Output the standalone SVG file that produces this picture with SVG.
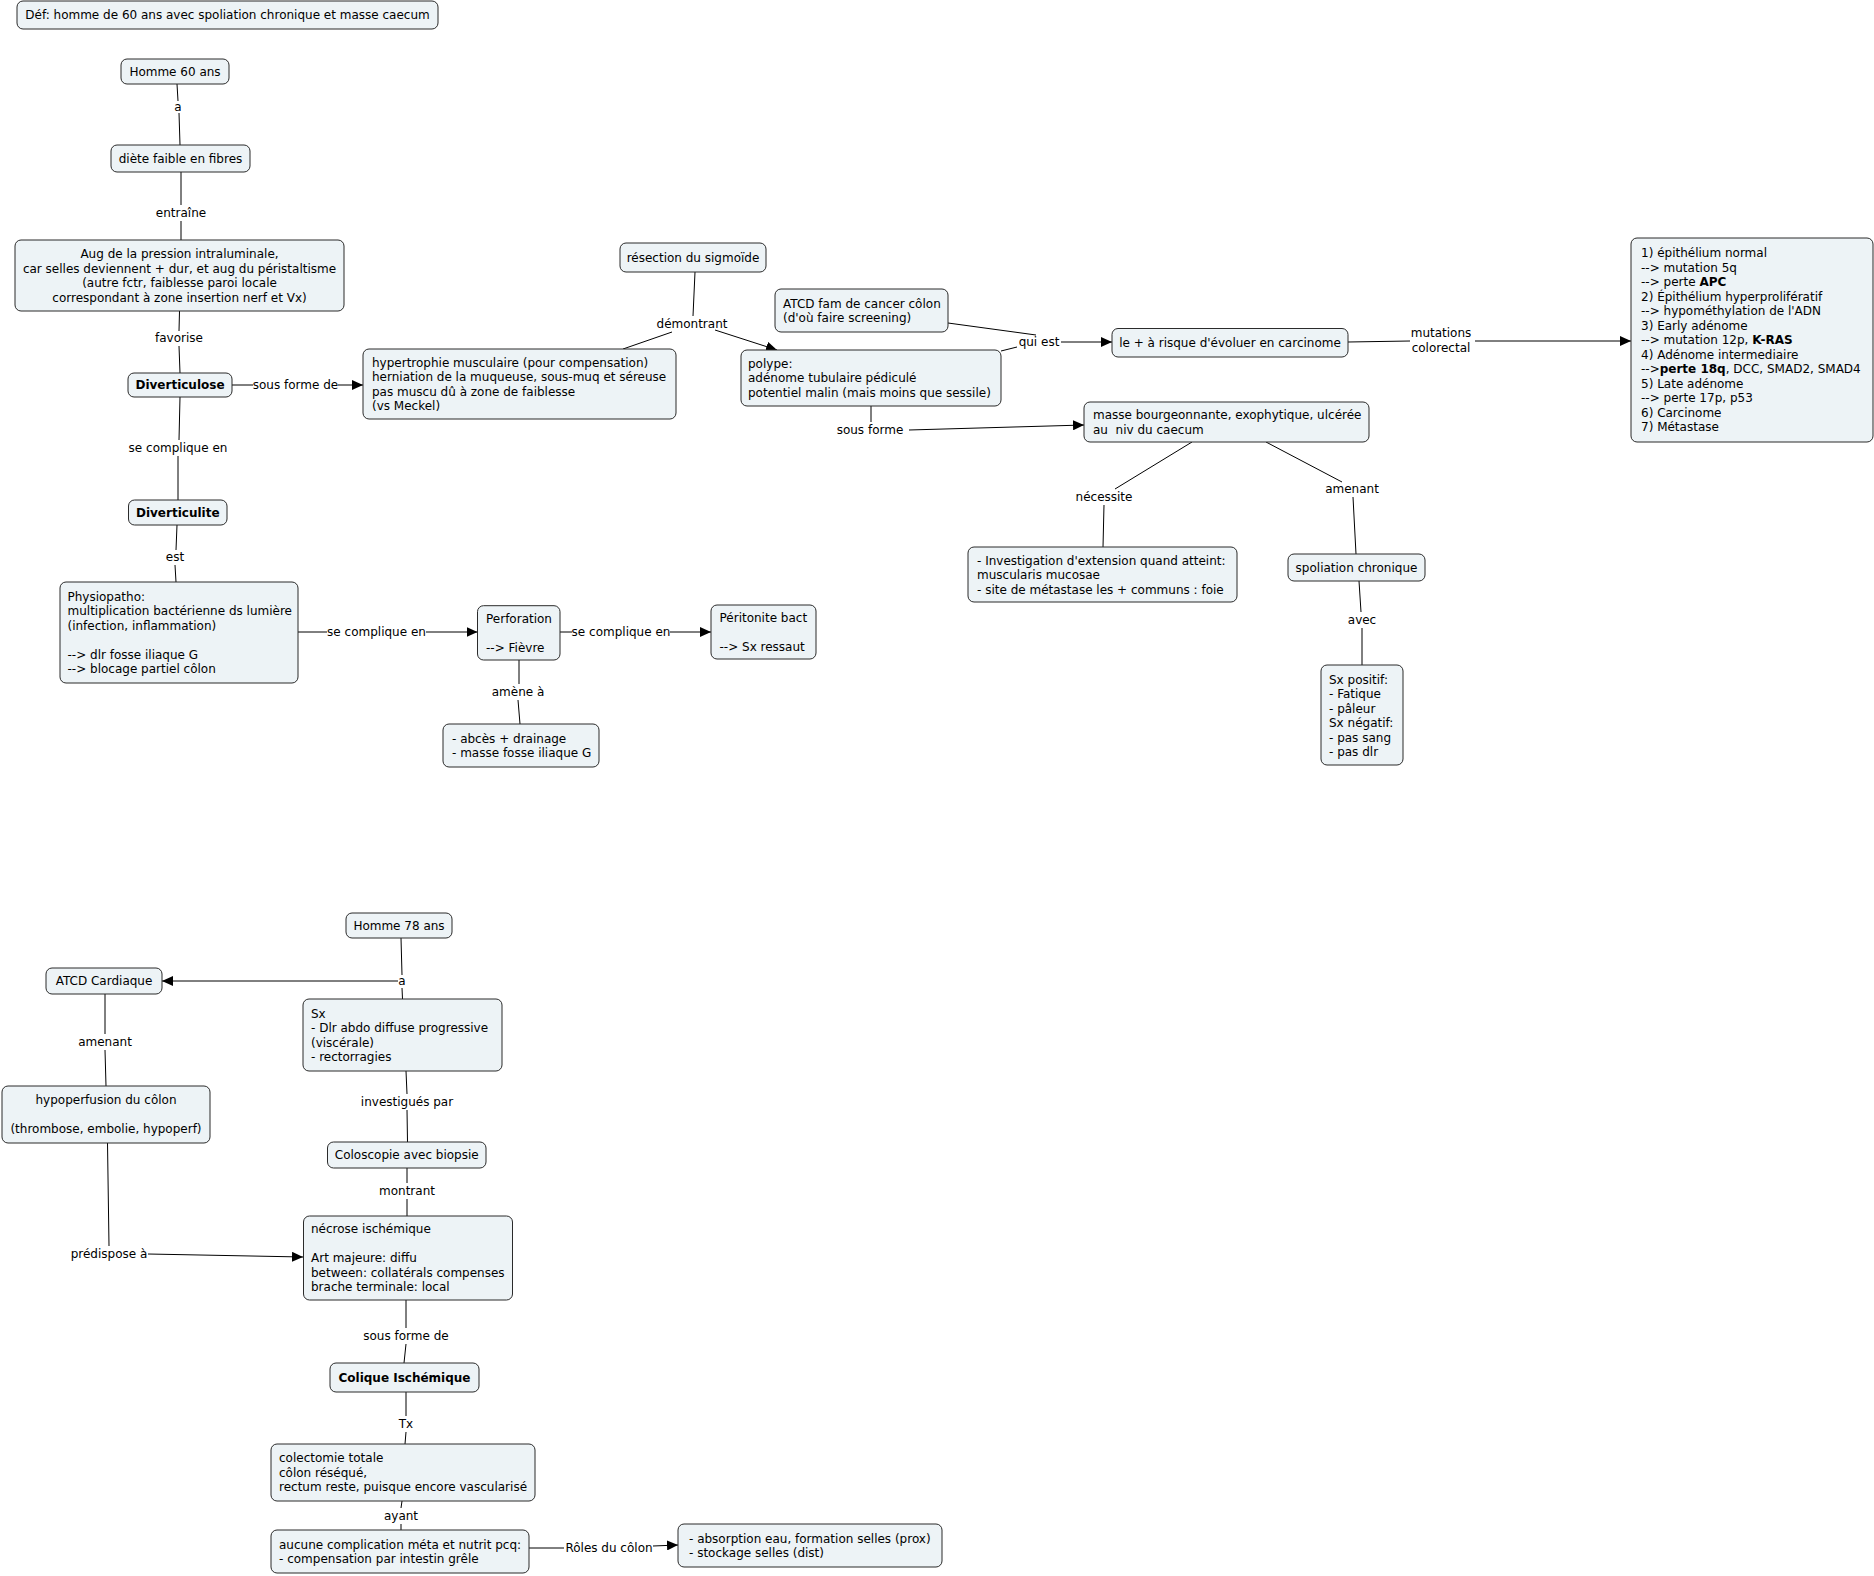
<svg xmlns="http://www.w3.org/2000/svg" width="1874" height="1576" viewBox="0 0 1874 1576">
<style>
text{font-family:"DejaVu Sans",Verdana,"Liberation Sans",sans-serif;font-size:12px;fill:#000}
.n rect{fill:#edf3f6;stroke:#2b2b2b;stroke-width:1}
.b{font-weight:bold}
.m{text-anchor:middle}
#links line,#links polyline{stroke:#000;stroke-width:1;fill:none}
.a{marker-end:url(#arr)}
</style>
<defs>
<marker id="arr" markerUnits="userSpaceOnUse" markerWidth="12" markerHeight="10" refX="11" refY="5" orient="auto">
<path d="M0,0 L11,5 L0,10 z" fill="#000"/>
</marker>
</defs>
<rect width="1874" height="1576" fill="#fff"/>
<g id="links">
<line x1="177" y1="84" x2="178" y2="101"/><line x1="179" y1="113" x2="180" y2="145"/>
<line x1="181" y1="172" x2="181" y2="205"/><line x1="181" y1="221" x2="181" y2="240"/>
<line x1="179.5" y1="311" x2="179" y2="331"/><line x1="179" y1="346" x2="180" y2="373"/>
<line x1="232" y1="385" x2="253" y2="385"/><line class="a" x1="338" y1="385" x2="363" y2="385"/>
<line x1="180" y1="397" x2="179" y2="440"/><line x1="178" y1="456" x2="178" y2="500"/>
<line x1="177" y1="525" x2="176" y2="550"/><line x1="175" y1="565" x2="176" y2="582"/>
<line x1="298" y1="632" x2="327" y2="632"/><line class="a" x1="426" y1="632" x2="477.5" y2="632"/>
<line x1="560" y1="632" x2="572" y2="632"/><line class="a" x1="670" y1="632" x2="711" y2="632"/>
<line x1="519" y1="660" x2="519" y2="684"/><line x1="518" y1="700" x2="520" y2="724"/>
<line x1="695" y1="272" x2="693" y2="316"/><line x1="672" y1="332" x2="623" y2="349"/><line class="a" x1="715" y1="330" x2="777" y2="350"/>
<line x1="948" y1="323" x2="1036" y2="335"/><line x1="1001" y1="351" x2="1017" y2="347"/><line class="a" x1="1061" y1="342" x2="1112" y2="342"/>
<line x1="1348" y1="342" x2="1410" y2="341"/><line class="a" x1="1475" y1="341" x2="1631" y2="341"/>
<line x1="871" y1="406" x2="871" y2="422"/><line class="a" x1="909" y1="430" x2="1084" y2="425"/>
<line x1="1192" y1="442" x2="1115" y2="489"/><line x1="1104" y1="505" x2="1103" y2="547"/>
<line x1="1266" y1="442" x2="1342" y2="482"/><line x1="1353" y1="497" x2="1356" y2="554"/>
<line x1="1359" y1="581" x2="1361" y2="612"/><line x1="1362" y1="628" x2="1362" y2="665"/>
<line x1="401" y1="938" x2="402" y2="975"/><line x1="402" y1="988" x2="402.5" y2="999"/><line class="a" x1="398" y1="981" x2="162" y2="981"/>
<line x1="105" y1="994" x2="105" y2="1034"/><line x1="105" y1="1050" x2="106" y2="1086"/>
<line x1="107.5" y1="1143" x2="109" y2="1246"/><line class="a" x1="148" y1="1254" x2="303" y2="1257"/>
<line x1="406" y1="1071" x2="407" y2="1094"/><line x1="407" y1="1110" x2="407.5" y2="1142"/>
<line x1="407" y1="1168" x2="407" y2="1183"/><line x1="407" y1="1199" x2="407" y2="1216"/>
<line x1="406" y1="1300" x2="406" y2="1328"/><line x1="406" y1="1344" x2="404" y2="1363"/>
<line x1="406" y1="1392" x2="406" y2="1416"/><line x1="406" y1="1432" x2="405" y2="1444"/>
<line x1="402" y1="1501" x2="401" y2="1508"/><line x1="401" y1="1524" x2="401" y2="1530"/>
<line x1="529" y1="1548" x2="564" y2="1548"/><line class="a" x1="653" y1="1546" x2="678" y2="1545"/>
</g>
<g id="labels">
<text class="m" x="178" y="111.3">a</text>
<text class="m" x="181" y="217.3">entraîne</text>
<text class="m" x="179" y="342.3">favorise</text>
<text class="m" x="295.5" y="389.3">sous forme de</text>
<text class="m" x="178" y="452.3">se complique en</text>
<text class="m" x="175" y="561.3">est</text>
<text class="m" x="376.5" y="636.3">se complique en</text>
<text class="m" x="621" y="636.3">se complique en</text>
<text class="m" x="518" y="696.3">amène à</text>
<text class="m" x="692" y="328.3">démontrant</text>
<text class="m" x="1039" y="346.3">qui est</text>
<text class="m" x="1441" y="337.3">mutations</text>
<text class="m" x="1441" y="352.3">colorectal</text>
<text class="m" x="870" y="434.3">sous forme</text>
<text class="m" x="1104" y="501.3">nécessite</text>
<text class="m" x="1352" y="493.3">amenant</text>
<text class="m" x="1362" y="624.3">avec</text>
<text class="m" x="402" y="985.3">a</text>
<text class="m" x="105" y="1046.3">amenant</text>
<text class="m" x="109" y="1258.3">prédispose à</text>
<text class="m" x="407" y="1106.3">investigués par</text>
<text class="m" x="407" y="1195.3">montrant</text>
<text class="m" x="406" y="1340.3">sous forme de</text>
<text class="m" x="406" y="1428.3">Tx</text>
<text class="m" x="401" y="1520.3">ayant</text>
<text class="m" x="609" y="1552.3">Rôles du côlon</text>
</g>
<g id="def" class="n"><rect x="17" y="1" width="421" height="28" rx="6"/><text class="m" x="227.5" y="19.3">Déf: homme de 60 ans avec spoliation chronique et masse caecum</text></g>
<g id="homme60" class="n"><rect x="121" y="59" width="108" height="25" rx="6"/><text class="m" x="175" y="75.8">Homme 60 ans</text></g>
<g id="diete" class="n"><rect x="111" y="145" width="139" height="27" rx="6"/><text class="m" x="180.5" y="162.8">diète faible en fibres</text></g>
<g id="aug" class="n"><rect x="15" y="240" width="329" height="71" rx="6"/>
<text class="m" x="179.5" y="258">Aug de la pression intraluminale,</text>
<text class="m" x="179.5" y="272.5">car selles deviennent + dur, et aug du péristaltisme</text>
<text class="m" x="179.5" y="287">(autre fctr, faiblesse paroi locale</text>
<text class="m" x="179.5" y="301.5">correspondant à zone insertion nerf et Vx)</text></g>
<g id="diverticulose" class="n"><rect x="128" y="373" width="104" height="24" rx="6"/><text class="m b" x="180" y="389.3">Diverticulose</text></g>
<g id="hypertrophie" class="n"><rect x="363" y="349" width="313" height="70" rx="6"/>
<text x="372" y="366.5">hypertrophie musculaire (pour compensation)</text>
<text x="372" y="381">herniation de la muqueuse, sous-muq et séreuse</text>
<text x="372" y="395.5">pas muscu dû à zone de faiblesse</text>
<text x="372" y="410">(vs Meckel)</text></g>
<g id="diverticulite" class="n"><rect x="128.5" y="500" width="98.5" height="25" rx="6"/><text class="m b" x="177.75" y="516.8">Diverticulite</text></g>
<g id="physiopatho" class="n"><rect x="60" y="582" width="238" height="101" rx="6"/>
<text x="67.5" y="600.5">Physiopatho:</text>
<text x="67.5" y="615">multiplication bactérienne ds lumière</text>
<text x="67.5" y="629.5">(infection, inflammation)</text>
<text x="67.5" y="658.5">--&gt; dlr fosse iliaque G</text>
<text x="67.5" y="673">--&gt; blocage partiel côlon</text></g>
<g id="perforation" class="n"><rect x="477.5" y="605.7" width="82.5" height="54.3" rx="6"/>
<text x="486" y="622.6">Perforation</text>
<text x="486" y="651.6">--&gt; Fièvre</text></g>
<g id="peritonite" class="n"><rect x="711" y="605" width="105" height="54" rx="6"/>
<text x="719.5" y="621.8">Péritonite bact</text>
<text x="719.5" y="650.8">--&gt; Sx ressaut</text></g>
<g id="abces" class="n"><rect x="443" y="724" width="156" height="43" rx="6"/>
<text x="452" y="742.5">- abcès + drainage</text>
<text x="452" y="757">- masse fosse iliaque G</text></g>
<g id="resection" class="n"><rect x="620" y="243" width="146" height="29" rx="6"/><text class="m" x="693" y="261.8">résection du sigmoïde</text></g>
<g id="atcdfam" class="n"><rect x="775" y="289" width="173" height="43" rx="6"/>
<text x="783" y="307.5">ATCD fam de cancer côlon</text>
<text x="783" y="322">(d'où faire screening)</text></g>
<g id="polype" class="n"><rect x="741" y="350" width="260" height="56" rx="6"/>
<text x="748" y="367.8">polype:</text>
<text x="748" y="382.3">adénome tubulaire pédiculé</text>
<text x="748" y="396.8">potentiel malin (mais moins que sessile)</text></g>
<g id="risque" class="n"><rect x="1112" y="328.5" width="236" height="28.5" rx="6"/><text class="m" x="1230" y="347">le + à risque d'évoluer en carcinome</text></g>
<g id="masse" class="n"><rect x="1084" y="402" width="285" height="40" rx="6"/>
<text x="1093" y="419">masse bourgeonnante, exophytique, ulcérée</text>
<text x="1093" y="433.5" style="white-space:pre">au  niv du caecum</text></g>
<g id="etapes" class="n"><rect x="1631" y="238" width="242" height="204" rx="6"/>
<text x="1641" y="257.3">1) épithélium normal</text>
<text x="1641" y="271.8">--&gt; mutation 5q</text>
<text x="1641" y="286.3">--&gt; perte <tspan class="b">APC</tspan></text>
<text x="1641" y="300.8">2) Épithélium hyperprolifératif</text>
<text x="1641" y="315.3">--&gt; hypométhylation de l'ADN</text>
<text x="1641" y="329.8">3) Early adénome</text>
<text x="1641" y="344.3">--&gt; mutation 12p, <tspan class="b">K-RAS</tspan></text>
<text x="1641" y="358.8">4) Adénome intermediaire</text>
<text x="1641" y="373.3">--&gt;<tspan class="b">perte 18q</tspan>, DCC, SMAD2, SMAD4</text>
<text x="1641" y="387.8">5) Late adénome</text>
<text x="1641" y="402.3">--&gt; perte 17p, p53</text>
<text x="1641" y="416.8">6) Carcinome</text>
<text x="1641" y="431.3">7) Métastase</text></g>
<g id="investigation" class="n"><rect x="968" y="547" width="269" height="55" rx="6"/>
<text x="977" y="564.8">- Investigation d'extension quand atteint:</text>
<text x="977" y="579.3">muscularis mucosae</text>
<text x="977" y="593.8">- site de métastase les + communs : foie</text></g>
<g id="spoliation" class="n"><rect x="1288" y="554" width="137" height="27" rx="6"/><text class="m" x="1356.5" y="571.8">spoliation chronique</text></g>
<g id="sx1" class="n"><rect x="1321" y="665" width="82" height="100" rx="6"/>
<text x="1329" y="683.5">Sx positif:</text>
<text x="1329" y="698">- Fatique</text>
<text x="1329" y="712.5">- pâleur</text>
<text x="1329" y="727">Sx négatif:</text>
<text x="1329" y="741.5">- pas sang</text>
<text x="1329" y="756">- pas dlr</text></g>
<g id="homme78" class="n"><rect x="346" y="913" width="106" height="25" rx="6"/><text class="m" x="399" y="929.8">Homme 78 ans</text></g>
<g id="atcdcard" class="n"><rect x="46" y="968" width="116" height="26" rx="6"/><text class="m" x="104" y="985.3">ATCD Cardiaque</text></g>
<g id="sx2" class="n"><rect x="303" y="999" width="199" height="72" rx="6"/>
<text x="311" y="1017.5">Sx</text>
<text x="311" y="1032">- Dlr abdo diffuse progressive</text>
<text x="311" y="1046.5">(viscérale)</text>
<text x="311" y="1061">- rectorragies</text></g>
<g id="hypoperfusion" class="n"><rect x="2" y="1086" width="208" height="57" rx="6"/>
<text class="m" x="106" y="1103.8">hypoperfusion du côlon</text>
<text class="m" x="106" y="1132.8">(thrombose, embolie, hypoperf)</text></g>
<g id="coloscopie" class="n"><rect x="327.5" y="1142" width="158.5" height="26" rx="6"/><text class="m" x="406.75" y="1159.3">Coloscopie avec biopsie</text></g>
<g id="necrose" class="n"><rect x="303.5" y="1216" width="209" height="84" rx="6"/>
<text x="311" y="1233.3">nécrose ischémique</text>
<text x="311" y="1262.3">Art majeure: diffu</text>
<text x="311" y="1276.8">between: collatérals compenses</text>
<text x="311" y="1291.3">brache terminale: local</text></g>
<g id="colique" class="n"><rect x="330" y="1363" width="149" height="29" rx="6"/><text class="m b" x="404.5" y="1381.8">Colique Ischémique</text></g>
<g id="colectomie" class="n"><rect x="271" y="1444" width="264" height="57" rx="6"/>
<text x="279" y="1462.3">colectomie totale</text>
<text x="279" y="1476.8">côlon réséqué,</text>
<text x="279" y="1491.3">rectum reste, puisque encore vascularisé</text></g>
<g id="aucune" class="n"><rect x="271" y="1530" width="258" height="43" rx="6"/>
<text x="279" y="1548.5">aucune complication méta et nutrit pcq:</text>
<text x="279" y="1563">- compensation par intestin grêle</text></g>
<g id="roles" class="n"><rect x="678" y="1524" width="264" height="43" rx="6"/>
<text x="689" y="1542.5">- absorption eau, formation selles (prox)</text>
<text x="689" y="1557">- stockage selles (dist)</text></g>
</svg>
